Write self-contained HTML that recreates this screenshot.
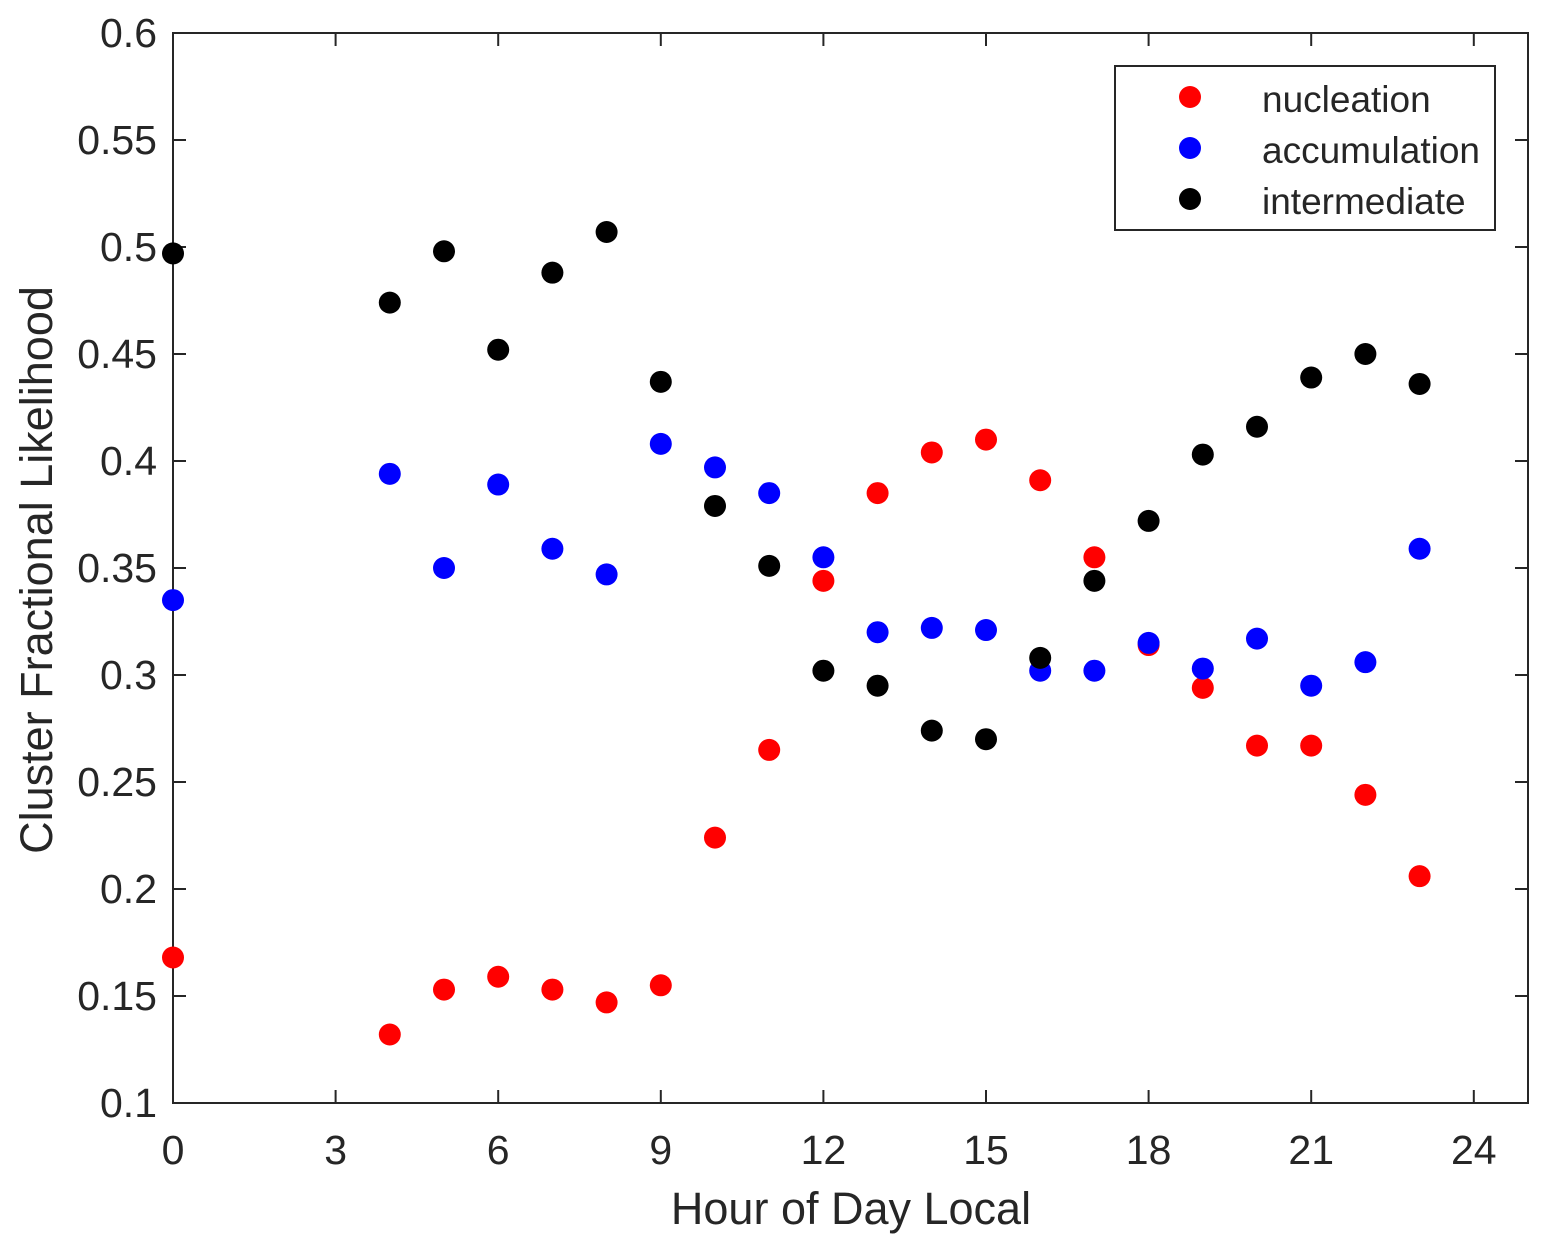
<!DOCTYPE html>
<html><head><meta charset="utf-8"><style>
body{margin:0;background:#fff}
svg text{font-family:"Liberation Sans",Arial,sans-serif;fill:#262626}
</style></head><body>
<svg id="chart" width="1548" height="1252" xmlns="http://www.w3.org/2000/svg">
<rect x="0" y="0" width="1548" height="1252" fill="#fff"/>
<g id="grid"></g>
<g id="marks"></g>
<text x="851" y="1224" font-size="45" text-anchor="middle">Hour of Day Local</text>
<text transform="translate(52,570) rotate(-90)" font-size="45" text-anchor="middle">Cluster Fractional Likelihood</text>
<g>
<rect x="1115" y="66" width="380" height="164" fill="#fff" stroke="#262626" stroke-width="2"/>
<circle cx="1190" cy="97" r="11" fill="#ff0000"/><text x="1262" y="112" font-size="37">nucleation</text>
<circle cx="1190" cy="148" r="11" fill="#0000ff"/><text x="1262" y="163" font-size="37">accumulation</text>
<circle cx="1190" cy="199" r="11" fill="#000"/><text x="1262" y="214" font-size="37">intermediate</text>
</g>
</svg>
<script>
const hours=[0,4,5,6,7,8,9,10,11,12,13,14,15,16,17,18,19,20,21,22,23];
const nucleation=[0.168,0.132,0.153,0.159,0.153,0.147,0.155,0.224,0.265,0.344,0.385,0.404,0.410,0.391,0.355,0.314,0.294,0.267,0.267,0.244,0.206];
const accumulation=[0.335,0.394,0.350,0.389,0.359,0.347,0.408,0.397,0.385,0.355,0.320,0.322,0.321,0.302,0.302,0.315,0.303,0.317,0.295,0.306,0.359];
const intermediate=[0.497,0.474,0.498,0.452,0.488,0.507,0.437,0.379,0.351,0.302,0.295,0.274,0.270,0.308,0.344,0.372,0.403,0.416,0.439,0.450,0.436];
const xTicks=[0,3,6,9,12,15,18,21,24];
const yTicks=[0.1,0.15,0.2,0.25,0.3,0.35,0.4,0.45,0.5,0.55,0.6];
const L=173,R=1528,T=33,B=1103;
const xs=v=>L+(v/25)*(R-L);
const ys=v=>B-(v-0.1)/0.5*(B-T);
const NS="http://www.w3.org/2000/svg";
const grid=document.getElementById('grid'),marks=document.getElementById('marks');
function mk(tag,attrs,parent){const e=document.createElementNS(NS,tag);for(const k in attrs)e.setAttribute(k,attrs[k]);parent.appendChild(e);return e;}
const frame=mk('rect',{x:L,y:T,width:R-L,height:B-T,fill:'none',stroke:'#262626','stroke-width':2},grid);


xTicks.forEach(t=>{const x=xs(t);
mk('line',{x1:x,x2:x,y1:B,y2:B-13,stroke:'#262626','stroke-width':2},grid);
mk('line',{x1:x,x2:x,y1:T,y2:T+13,stroke:'#262626','stroke-width':2},grid);
const tx=mk('text',{x:x,y:B+61,'font-size':41,'text-anchor':'middle'},grid);tx.textContent=t;

});
yTicks.forEach(t=>{const y=ys(t);
mk('line',{x1:L,x2:L+13,y1:y,y2:y,stroke:'#262626','stroke-width':2},grid);
mk('line',{x1:R,x2:R-13,y1:y,y2:y,stroke:'#262626','stroke-width':2},grid);
const tx=mk('text',{x:L-16,y:y+14,'font-size':41,'text-anchor':'end'},grid);tx.textContent=String(t);

});
[[nucleation,'#ff0000','nucleation'],[accumulation,'#0000ff','accumulation'],[intermediate,'#000000','intermediate']].forEach(([arr,c,n])=>{
arr.forEach((v,i)=>{const p=mk('circle',{cx:xs(hours[i]),cy:ys(v),r:11,fill:c},marks);

});});
</script>
</body></html>
